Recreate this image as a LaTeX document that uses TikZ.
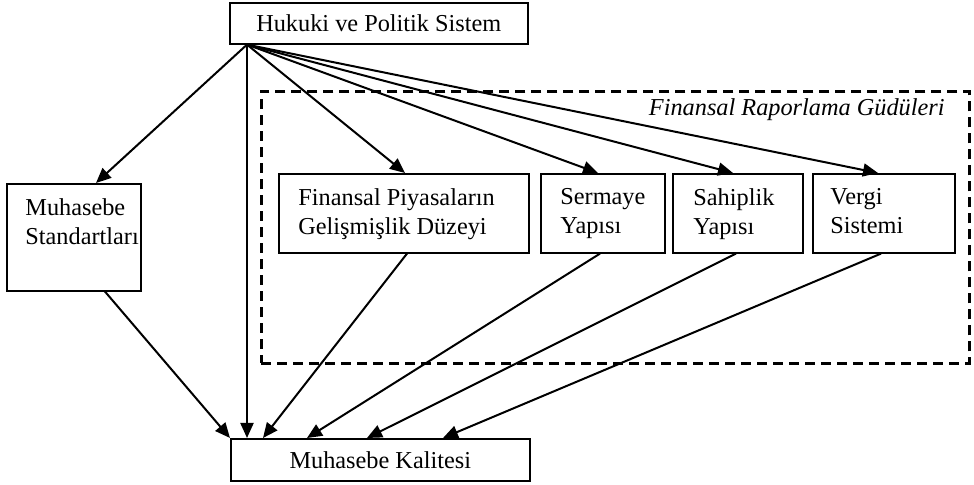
\documentclass[tikz,border=0pt]{standalone}
\usepackage{fontspec}
\setmainfont{Liberation Serif}
\usetikzlibrary{arrows.meta,calc}
\begin{document}
\begin{tikzpicture}[x=0.5pt,y=-0.5pt,
  font=\fontsize{12.15}{14.5}\selectfont,
  box/.style={draw, line width=0.8pt, inner sep=0, anchor=north west},
  lbl/.style={anchor=north west, inner sep=0, align=left},
  arr/.style={line width=1pt, -{Triangle[length=7.5pt,width=6.5pt]}},
  frame/.style={draw, line width=1.3pt, dash pattern=on 5pt off 3pt, inner sep=0, anchor=north west}]
\useasboundingbox (0,0) rectangle (974,485);
% dashed frame
\node[frame, minimum width=354pt, minimum height=136pt] (frm) at (260,90) {};
\node[anchor=base east, inner sep=0, font=\fontsize{12.15}{14.5}\selectfont\itshape] (ttl) at (945,116) {Finansal Raporlama Güdüleri};
% boxes
\node[box, minimum width=149pt, minimum height=20.5pt] (top) at (229,2) {Hukuki ve Politik Sistem};
\node[box, minimum width=149.5pt, minimum height=21pt] (kal) at (230,438) {Muhasebe Kalitesi};
\node[box, minimum width=67pt, minimum height=53.5pt] (std) at (6,183) {};
\node[box, minimum width=125pt, minimum height=39.5pt] (fin) at (278,173) {};
\node[box, minimum width=62pt, minimum height=39.5pt] (ser) at (540,173) {};
\node[box, minimum width=65pt, minimum height=39.5pt] (sah) at (672,173) {};
\node[box, minimum width=71pt, minimum height=39.5pt] (ver) at (812,173) {};
% texts
\node[lbl] (stdt) at (25,198.5) {Muhasebe\\Standartları};
\node[lbl] (fint) at (298,188) {Finansal Piyasaların\\Gelişmişlik Düzeyi};
\node[lbl] (sert) at (560,188) {Sermaye\\Yapısı};
\node[lbl] (saht) at (693,188) {Sahiplik\\Yapısı};
\node[lbl] (vert) at (830,188) {Vergi\\Sistemi};
% arrows from top
\coordinate (src) at ([xshift=9pt]top.south west);
\draw[arr] (src) -- ([xshift=45pt]std.north west);
\draw[arr] (src) -- (src |- kal.north);
\draw[arr] (src) -- ([xshift=63.5pt]fin.north west);
\draw[arr] (src) -- ([xshift=29pt]ser.north west);
\draw[arr] (src) -- ([xshift=30.5pt]sah.north west);
\draw[arr] (src) -- ([xshift=33pt]ver.north west);
% arrows to bottom
\draw[arr] ([xshift=49.5pt]std.south west) -- (kal.north west);
\draw[arr] ([xshift=64.5pt]fin.south west) -- ([xshift=16.5pt]kal.north west);
\draw[arr] ([xshift=30pt]ser.south west) -- ([xshift=38.5pt]kal.north west);
\draw[arr] ([xshift=32pt]sah.south west) -- ([xshift=68.5pt]kal.north west);
\draw[arr] ([xshift=34.5pt]ver.south west) -- ([xshift=106.5pt]kal.north west);
\end{tikzpicture}
\end{document}
